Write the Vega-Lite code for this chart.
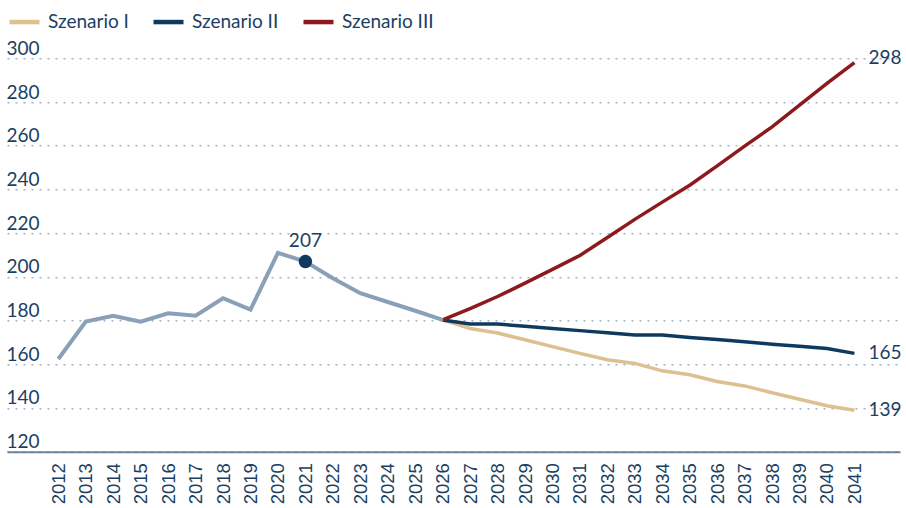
{
  "$schema": "https://vega.github.io/schema/vega-lite/v6.json",
  "width": 893,
  "height": 393.4,
  "autosize": {"type": "none"},
  "padding": {"left": 7, "top": 58.3, "right": 6, "bottom": 56.3},
  "background": "white",
  "config": {"view": {"stroke": null}, "font": "Lato"},
  "datasets": {
    "lines": [
      {"year": 2012, "value": 162.4, "series": "Historisch"},
      {"year": 2013, "value": 179.5, "series": "Historisch"},
      {"year": 2014, "value": 182.2, "series": "Historisch"},
      {"year": 2015, "value": 179.5, "series": "Historisch"},
      {"year": 2016, "value": 183.3, "series": "Historisch"},
      {"year": 2017, "value": 182.2, "series": "Historisch"},
      {"year": 2018, "value": 190.2, "series": "Historisch"},
      {"year": 2019, "value": 185.0, "series": "Historisch"},
      {"year": 2020, "value": 211.0, "series": "Historisch"},
      {"year": 2021, "value": 207.0, "series": "Historisch"},
      {"year": 2022, "value": 199.4, "series": "Historisch"},
      {"year": 2023, "value": 192.5, "series": "Historisch"},
      {"year": 2024, "value": 188.5, "series": "Historisch"},
      {"year": 2025, "value": 184.5, "series": "Historisch"},
      {"year": 2026, "value": 180.3, "series": "Historisch"},
      {"year": 2026, "value": 180.3, "series": "Szenario I"},
      {"year": 2027, "value": 176.4, "series": "Szenario I"},
      {"year": 2028, "value": 174.3, "series": "Szenario I"},
      {"year": 2029, "value": 171.2, "series": "Szenario I"},
      {"year": 2030, "value": 168.1, "series": "Szenario I"},
      {"year": 2031, "value": 165.0, "series": "Szenario I"},
      {"year": 2032, "value": 162.1, "series": "Szenario I"},
      {"year": 2033, "value": 160.4, "series": "Szenario I"},
      {"year": 2034, "value": 157.0, "series": "Szenario I"},
      {"year": 2035, "value": 155.2, "series": "Szenario I"},
      {"year": 2036, "value": 152.1, "series": "Szenario I"},
      {"year": 2037, "value": 150.1, "series": "Szenario I"},
      {"year": 2038, "value": 147.0, "series": "Szenario I"},
      {"year": 2039, "value": 144.0, "series": "Szenario I"},
      {"year": 2040, "value": 141.0, "series": "Szenario I"},
      {"year": 2041, "value": 139.0, "series": "Szenario I"},
      {"year": 2026, "value": 180.3, "series": "Szenario II"},
      {"year": 2027, "value": 178.4, "series": "Szenario II"},
      {"year": 2028, "value": 178.4, "series": "Szenario II"},
      {"year": 2029, "value": 177.4, "series": "Szenario II"},
      {"year": 2030, "value": 176.4, "series": "Szenario II"},
      {"year": 2031, "value": 175.4, "series": "Szenario II"},
      {"year": 2032, "value": 174.4, "series": "Szenario II"},
      {"year": 2033, "value": 173.4, "series": "Szenario II"},
      {"year": 2034, "value": 173.4, "series": "Szenario II"},
      {"year": 2035, "value": 172.3, "series": "Szenario II"},
      {"year": 2036, "value": 171.3, "series": "Szenario II"},
      {"year": 2037, "value": 170.3, "series": "Szenario II"},
      {"year": 2038, "value": 169.2, "series": "Szenario II"},
      {"year": 2039, "value": 168.2, "series": "Szenario II"},
      {"year": 2040, "value": 167.2, "series": "Szenario II"},
      {"year": 2041, "value": 165.0, "series": "Szenario II"},
      {"year": 2026, "value": 180.3, "series": "Szenario III"},
      {"year": 2027, "value": 185.5, "series": "Szenario III"},
      {"year": 2028, "value": 191.0, "series": "Szenario III"},
      {"year": 2029, "value": 197.1, "series": "Szenario III"},
      {"year": 2030, "value": 203.4, "series": "Szenario III"},
      {"year": 2031, "value": 209.8, "series": "Szenario III"},
      {"year": 2032, "value": 218.0, "series": "Szenario III"},
      {"year": 2033, "value": 226.3, "series": "Szenario III"},
      {"year": 2034, "value": 234.2, "series": "Szenario III"},
      {"year": 2035, "value": 241.9, "series": "Szenario III"},
      {"year": 2036, "value": 250.8, "series": "Szenario III"},
      {"year": 2037, "value": 259.8, "series": "Szenario III"},
      {"year": 2038, "value": 268.6, "series": "Szenario III"},
      {"year": 2039, "value": 278.6, "series": "Szenario III"},
      {"year": 2040, "value": 288.5, "series": "Szenario III"},
      {"year": 2041, "value": 298.0, "series": "Szenario III"}
    ]
  },
  "data": {"name": "lines"},
  "encoding": {
    "x": {
      "field": "year",
      "type": "quantitative",
      "scale": {"domain": [2010.13, 2042.66], "nice": false, "zero": false},
      "axis": {
        "title": null,
        "values": [2012, 2013, 2014, 2015, 2016, 2017, 2018, 2019, 2020, 2021, 2022, 2023, 2024, 2025, 2026, 2027, 2028, 2029, 2030, 2031, 2032, 2033, 2034, 2035, 2036, 2037, 2038, 2039, 2040, 2041],
        "format": "d",
        "labelAngle": -90,
        "labelFont": "Liberation Sans",
        "labelFontSize": 18.5,
        "labelColor": "#1a3f63",
        "labelPadding": 11,
        "labelOverlap": false,
        "labelBound": false,
        "labelFlush": false,
        "ticks": false,
        "grid": false,
        "domainColor": "#6a84a0",
        "domainWidth": 2
      }
    },
    "y": {
      "field": "value",
      "type": "quantitative",
      "scale": {"domain": [120, 300], "nice": false, "zero": false},
      "axis": {
        "title": null,
        "values": [120, 140, 160, 180, 200, 220, 240, 260, 280, 300],
        "domain": false,
        "ticks": false,
        "grid": true,
        "gridDash": [2, 6],
        "gridColor": "#9fb2c6",
        "gridWidth": 1.5,
        "labelAlign": "left",
        "labelBaseline": "alphabetic",
        "labelOffset": -4,
        "labelPadding": 1,
        "labelFont": "Lato",
        "labelFontSize": 19,
        "labelColor": "#1a3f63"
      }
    }
  },
  "layer": [
    {
      "transform": [{"filter": "datum.series !== 'Historisch'"}],
      "mark": {"type": "line", "strokeWidth": 3.5},
      "encoding": {
        "color": {
          "field": "series",
          "type": "nominal",
          "scale": {"domain": ["Szenario I", "Szenario II", "Szenario III"], "range": ["#dcc08f", "#0f3a5f", "#8c1a1c"]},
          "legend": {
            "title": null,
            "orient": "none",
            "legendX": 0,
            "legendY": -54,
            "direction": "horizontal",
            "symbolType": "stroke",
            "symbolSize": 900,
            "symbolStrokeWidth": 4.5,
            "labelFont": "Lato",
            "labelFontSize": 19,
            "labelColor": "#1a3f63",
            "labelOffset": 6,
            "columnPadding": 15
          }
        }
      }
    },
    {
      "transform": [{"filter": "datum.series === 'Historisch'"}],
      "mark": {"type": "line", "strokeWidth": 4, "color": "#8aa0b8"}
    },
    {
      "transform": [{"filter": "datum.series === 'Historisch' && datum.year === 2021"}],
      "mark": {"type": "point", "filled": true, "size": 180, "color": "#0f3a5f", "opacity": 1}
    },
    {
      "transform": [{"filter": "datum.series === 'Historisch' && datum.year === 2021"}],
      "mark": {"type": "text", "dy": -15, "baseline": "alphabetic", "align": "center", "font": "Lato", "fontSize": 19, "color": "#1a3f63"},
      "encoding": {"text": {"field": "value", "type": "quantitative", "format": "d"}}
    },
    {
      "transform": [{"filter": "datum.year === 2041 && datum.series === 'Szenario III'"}],
      "mark": {"type": "text", "dx": 14, "dy": -5, "baseline": "middle", "align": "left", "font": "Lato", "fontSize": 19, "color": "#1a3f63"},
      "encoding": {"text": {"field": "value", "type": "quantitative", "format": "d"}}
    },
    {
      "transform": [{"filter": "datum.year === 2041 && (datum.series === 'Szenario I' || datum.series === 'Szenario II')"}],
      "mark": {"type": "text", "dx": 14, "dy": 0, "baseline": "middle", "align": "left", "font": "Lato", "fontSize": 19, "color": "#1a3f63"},
      "encoding": {"text": {"field": "value", "type": "quantitative", "format": "d"}}
    }
  ]
}
